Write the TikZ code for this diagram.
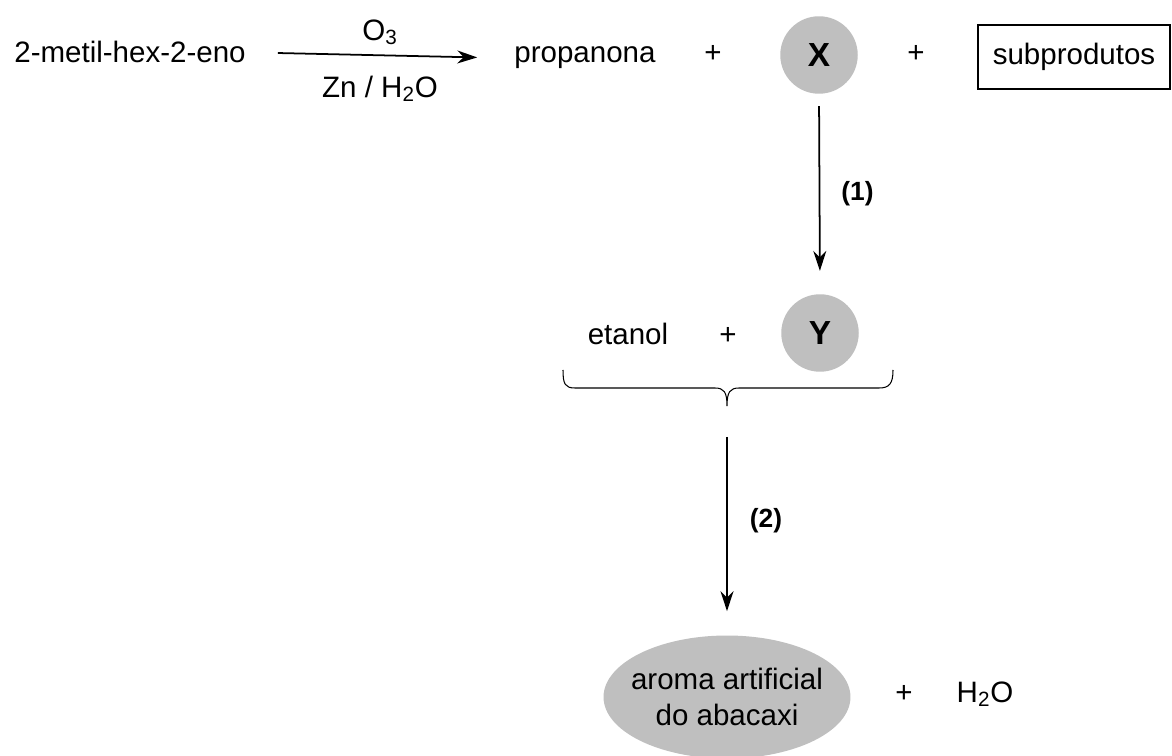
\documentclass[tikz,border=0pt]{standalone}
\usepackage{fontspec}
\setmainfont{Liberation Sans}
\usetikzlibrary{arrows.meta,shapes.geometric}

\definecolor{blobgray}{RGB}{191,191,191}

\tikzstyle{scheme}=[x=0.02cm,y=-0.02cm,font=\fontsize{16.8}{18.8}\selectfont]
\tikzstyle{word}=[anchor=base]
\tikzstyle{blob}=[circle,fill=blobgray,minimum size=1.55cm,inner sep=0pt,
    font=\fontsize{19}{21}\selectfont\bfseries]
\tikzstyle{reac}=[-{Stealth[length=0.4cm,width=0.26cm,inset=0.13cm]},line width=1pt]
\tikzstyle{steplabel}=[font=\fontsize{15}{17}\selectfont\bfseries]

\begin{document}
\begin{tikzpicture}[style=scheme]
\useasboundingbox (0,0) rectangle (1172,756);

% ozonolysis
\node[word] (alkene) at (130,63) {2-metil-hex-2-eno};
\node[word] (propanone) at (585,63) {propanona};
\node[word] (plusA) at (713,63) {+};
\node[blob] (X) at (819,55) {X};
\node[word] (plusB) at (916,63) {+};
\node[draw,line width=1.1pt,minimum width=3.84cm,minimum height=1.28cm] (byprod) at (1074,57) {subprodutos};

\draw[reac,shorten <=0.52cm,shorten >=0.62cm] (alkene.east) -- (propanone.west)
    node[midway,anchor=base,yshift=0.3cm] (ozone) {O\textsubscript{3}}
    node[midway,anchor=base,yshift=-0.84cm] (zinc) {Zn / H\textsubscript{2}O};

% step (1)
\node[word] (ethanol) at (628,345) {etanol};
\node[word] (plusC) at (728,345) {+};
\node[blob] (Y) at (820,333) {Y};

\draw[reac,shorten <=0.24cm,shorten >=0.46cm] (X.south) -- (Y.north)
    node[midway,xshift=0.76cm,steplabel] (one) {(1)};

% brace under the reagents
\coordinate (braceTip) at (727,406);
\draw[line width=0.6pt] (563,370) .. controls (563,384) and (565,388) .. (575,388)
    -- (715,388) .. controls (724,388) and (727,392) .. (braceTip)
    .. controls (727,392) and (730,388) .. (739,388)
    -- (879,388) .. controls (889,388) and (893,384) .. (893,370);

% step (2)
\node[ellipse,fill=blobgray,minimum width=4.94cm,minimum height=2.46cm,
    inner xsep=-0.2cm,align=center,font=\fontsize{16.8}{20.5}\selectfont]
    (aroma) at (727,697) {aroma artificial\\do abacaxi};
\node[word] (plusD) at (904,702) {+};
\node[word] (water) at (985,702) {H\textsubscript{2}O};

\draw[reac,shorten <=0.62cm,shorten >=0.48cm] (braceTip) -- (aroma.north)
    node[midway,xshift=0.78cm,steplabel] (two) {(2)};

\end{tikzpicture}
\end{document}
